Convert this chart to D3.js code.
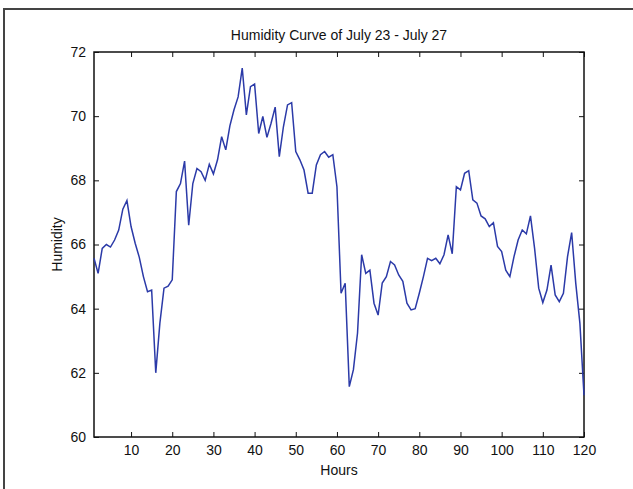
<!DOCTYPE html>
<html>
  <head>
    <script src="https://d3js.org/d3.v7.min.js"></script>
    <title>Humidity Curve</title>
    <style>
      body { margin: 0; background: #fff; }
      text { font-family: "Liberation Sans", Arial, sans-serif; fill: #111; }
    </style>
  </head>
  <body>
    <div id="container"></div>
    <script>
    // hourly humidity readings, hours 1..120
    var hours = d3.range(1, 121);
    var humidity = [
      65.57, 65.1, 65.88, 66.0, 65.92, 66.14, 66.45, 67.1, 67.37, 66.56,
      66.04, 65.6, 65.0, 64.53, 64.58, 62.0, 63.55, 64.64, 64.7, 64.9,
      67.65, 67.9, 68.6, 66.6, 67.9, 68.37, 68.27, 68.0, 68.5, 68.2,
      68.64, 69.36, 68.95, 69.7, 70.2, 70.6, 71.5, 70.04, 70.92, 71.0,
      69.46, 69.99, 69.34, 69.78, 70.28, 68.74, 69.67, 70.35, 70.42, 68.9,
      68.64, 68.32, 67.6, 67.6, 68.48, 68.8, 68.9, 68.72, 68.8, 67.8,
      64.48, 64.79, 61.57, 62.1, 63.24, 65.68, 65.1, 65.2, 64.17, 63.8,
      64.8, 65.0, 65.47, 65.36, 65.05, 64.85, 64.17, 63.96, 64.0, 64.48,
      65.0, 65.57, 65.5, 65.57, 65.4, 65.68, 66.3, 65.71, 67.8, 67.7,
      68.22, 68.3, 67.39, 67.29, 66.89, 66.8, 66.56, 66.68, 65.94, 65.78,
      65.2, 65.0, 65.62, 66.14, 66.45, 66.33, 66.89, 65.88, 64.64, 64.19,
      64.58, 65.36, 64.43, 64.22, 64.48, 65.62, 66.37, 64.79, 63.55, 61.3
    ];
    var xTicks = [10, 20, 30, 40, 50, 60, 70, 80, 90, 100, 110, 120];
    var yTicks = [60, 62, 64, 66, 68, 70, 72];

    const w = 633, h = 489;
    const mLeft = 94, mRight = 584, mTop = 52, mBottom = 437;

    const svg = d3.select('#container')
      .append('svg')
      .attr('width', w)
      .attr('height', h);

    // outer frame of the figure
    svg.append('path')
      .attr('d', `M4,${h} L4,9 L${w},9`)
      .attr('fill', 'none')
      .attr('stroke', '#444')
      .attr('stroke-width', 2);

    const x = d3.scaleLinear().domain([1, 120]).range([mLeft, mRight]);
    const y = d3.scaleLinear().domain([60, 72]).range([mBottom, mTop]);

    // inward ticks on all four sides, matlab style
    const tl = -5;
    svg.append('g')
      .attr('transform', `translate(0,${mBottom})`)
      .call(d3.axisBottom(x).tickValues(xTicks).tickSizeInner(tl).tickSizeOuter(0).tickPadding(8))
      .call(g => g.select('.domain').remove());
    svg.append('g')
      .attr('transform', `translate(0,${mTop})`)
      .call(d3.axisTop(x).tickValues(xTicks).tickSizeInner(tl).tickSizeOuter(0).tickFormat(''))
      .call(g => g.select('.domain').remove());
    svg.append('g')
      .attr('transform', `translate(${mLeft},0)`)
      .call(d3.axisLeft(y).tickValues(yTicks).tickSizeInner(tl).tickSizeOuter(0).tickPadding(8))
      .call(g => g.select('.domain').remove());
    svg.append('g')
      .attr('transform', `translate(${mRight},0)`)
      .call(d3.axisRight(y).tickValues(yTicks).tickSizeInner(tl).tickSizeOuter(0).tickFormat(''))
      .call(g => g.select('.domain').remove());

    svg.selectAll('.tick line').attr('stroke', '#111');
    svg.selectAll('.tick text').style('font-size', '14px').attr('fill', '#111');

    svg.append('rect')
      .attr('x', mLeft).attr('y', mTop)
      .attr('width', mRight - mLeft).attr('height', mBottom - mTop)
      .attr('fill', 'none').attr('stroke', '#111').attr('stroke-width', 1.5);

    const line = d3.line()
      .x((d, i) => x(hours[i]))
      .y(d => y(d));

    svg.append('path')
      .datum(humidity)
      .attr('d', line)
      .attr('fill', 'none')
      .attr('stroke', '#2b3aa8')
      .attr('stroke-width', 1.5);

    svg.append('text')
      .attr('x', (mLeft + mRight) / 2).attr('y', 40)
      .attr('text-anchor', 'middle')
      .style('font-size', '14px')
      .text('Humidity Curve of July 23 - July 27');

    svg.append('text')
      .attr('x', (mLeft + mRight) / 2).attr('y', 475)
      .attr('text-anchor', 'middle')
      .style('font-size', '14px')
      .text('Hours');

    svg.append('text')
      .attr('transform', `translate(62,${(mTop + mBottom) / 2}) rotate(-90)`)
      .attr('text-anchor', 'middle')
      .style('font-size', '14px')
      .text('Humidity');
    </script>
  </body>
</html>
